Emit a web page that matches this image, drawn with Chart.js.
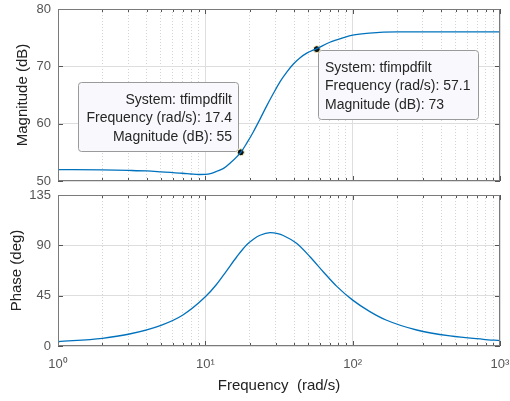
<!DOCTYPE html>
<html>
<head>
<meta charset="utf-8">
<script src="https://cdn.jsdelivr.net/npm/chart.js@4.4.1/dist/chart.umd.min.js"></script>
<style>
  body { margin: 0; background: #fff; }
  #wrap { position: relative; width: 510px; height: 401px; }
  #magBox { position: absolute; left: 0; top: 0; width: 510px; height: 190px; }
  #phaseBox { position: absolute; left: 0; top: 190px; width: 510px; height: 211px; }
</style>
</head>
<body>
<div id="wrap">
  <div id="magBox"><canvas id="magChart" width="510" height="190"></canvas></div>
  <div id="phaseBox"><canvas id="phaseChart" width="510" height="211"></canvas></div>
</div>
<script>
// Bode plot data

// magnitude curve
const freqMag = [1, 2, 3, 4, 5, 7, 8, 9, 10, 11, 12, 13.3, 14.7, 17.4, 19.1, 21.2, 23.5, 26.1, 29, 32.1, 35.7, 39.6, 44, 48.8, 57.1, 70, 86.5, 100, 130, 200, 500, 1000];
const magDb   = [52, 51.95, 51.85, 51.75, 51.6, 51.35, 51.22, 51.13, 51.15, 51.35, 51.7, 52.2, 53.1, 55, 56.6, 58.6, 60.8, 63.1, 65.3, 67.3, 69.0, 70.4, 71.5, 72.3, 73.1, 74.2, 75.0, 75.45, 75.8, 76, 76, 76];

// phase curve
const freqPhase = [1, 2, 3, 5, 7, 10, 11.9, 13.9, 16.4, 19.1, 21.2, 23.5, 27.5, 31, 33.8, 41.6, 51.3, 63.1, 77.7, 100, 130, 170, 272, 458, 771, 1000];
const phaseDeg  = [3.8, 6.9, 10.5, 18.5, 27.5, 44, 55, 67, 80, 90.5, 95.5, 99, 101.3, 100.5, 98.8, 91.8, 79.8, 66.4, 53.5, 41, 31, 23, 14.3, 9, 6, 4.8];

// data tips on the magnitude plot
const tipFreq = [17.4, 57.1];
const tipMag  = [55, 73];
const tipSystem = 'tfimpdfilt';

// axis ticks
const freqDecades = [1, 10, 100, 1000];
const freqDecadeLabels = ['10\u2070', '10\u00B9', '10\u00B2', '10\u00B3'];
const magTicks = [50, 60, 70, 80];
const phaseTicks = [0, 45, 90, 135];

const FONT = "'Liberation Sans', Arial, Helvetica, sans-serif";
Chart.defaults.font.family = FONT;
Chart.defaults.animation = false;

const lineBlue = '#0072BD';
const gridCol = '#dedede';
const boxCol = '#7a7a7a';

// all ticks 1..9 for each decade (minor grid)
function logTicks() {
    const t = [];
    for (let d = 0; d < freqDecades.length - 1; d++) {
        for (let k = 1; k < 10; k++) t.push({ value: k * freqDecades[d] });
    }
    t.push({ value: freqDecades[freqDecades.length - 1] });
    return t;
}
function isDecade(v) {
    return freqDecades.indexOf(v) >= 0;
}

function xAxis(showLabels) {
    return {
        type: 'logarithmic',
        min: 1,
        max: 1000,
        afterBuildTicks: (s) => { s.ticks = logTicks(); },
        afterFit: (s) => {
            s.height = showLabels ? 55 : 0;
            s.paddingLeft = 0; s.paddingRight = 0;
        },
        grid: {
            drawTicks: false,
            color: (c) => (c.tick && isDecade(c.tick.value)) ? gridCol : '#d4d4d4',
            lineWidth: 1
        },
        border: {
            display: false,
            dash: (c) => (c.tick && !isDecade(c.tick.value)) ? [1, 2] : []
        },
        ticks: {
            display: showLabels,
            autoSkip: false,
            maxRotation: 0,
            padding: 11,
            color: '#555',
            font: { size: 13 },
            callback: (v) => {
                const i = freqDecades.indexOf(v);
                return i >= 0 ? freqDecadeLabels[i] : '';
            }
        },
        title: {
            display: showLabels,
            text: 'Frequency  (rad/s)',
            color: '#222',
            font: { size: 15 },
            padding: { top: 0, bottom: 6 }
        }
    };
}

function yAxis(min, max, ticks, label, titlePad) {
    return {
        min: min,
        max: max,
        afterBuildTicks: (s) => { s.ticks = ticks.map(v => ({ value: v })); },
        afterFit: (s) => {
            s.width = 58;
            s.paddingTop = 0; s.paddingBottom = 0;
        },
        grid: { drawTicks: false, color: gridCol },
        border: { display: false },
        ticks: { padding: 7, color: '#555', font: { size: 13 } },
        title: {
            display: true,
            text: label,
            color: '#222',
            font: { size: 15 },
            padding: { top: titlePad, bottom: 0 }
        }
    };
}

// frame around the plot area + small inward tick marks, like MATLAB axes
const framePlugin = {
    id: 'frame',
    afterDraw(chart) {
        const ctx = chart.ctx;
        const a = chart.chartArea;
        const xs = chart.scales.x, ys = chart.scales.y;
        ctx.save();
        ctx.strokeStyle = '#555';
        ctx.lineWidth = 1;
        ctx.beginPath();
        xs.ticks.forEach(t => {
            const px = Math.round(xs.getPixelForValue(t.value)) + 0.5;
            const len = isDecade(t.value) ? 5 : 3;
            ctx.moveTo(px, a.top); ctx.lineTo(px, a.top + len);
            ctx.moveTo(px, a.bottom); ctx.lineTo(px, a.bottom - len);
        });
        ys.ticks.forEach(t => {
            const py = Math.round(ys.getPixelForValue(t.value)) + 0.5;
            ctx.moveTo(a.left, py); ctx.lineTo(a.left + 5, py);
            ctx.moveTo(a.right, py); ctx.lineTo(a.right - 5, py);
        });
        ctx.stroke();
        ctx.strokeStyle = boxCol;
        ctx.strokeRect(Math.round(a.left) + 0.5, Math.round(a.top) + 0.5,
                       Math.round(a.right - a.left) - 1, Math.round(a.bottom - a.top) - 1);
        ctx.restore();
    }
};

// data tip boxes, placed next to their point
const tipPlugin = {
    id: 'tips',
    beforeDatasetsDraw(chart) {
        const ctx = chart.ctx;
        const xs = chart.scales.x, ys = chart.scales.y;
        ctx.save();
        ctx.font = '14px ' + FONT;
        for (let i = 0; i < tipFreq.length; i++) {
            const lines = [
                'System: ' + tipSystem,
                'Frequency (rad/s): ' + tipFreq[i],
                'Magnitude (dB): ' + tipMag[i]
            ];
            const tw = Math.max(...lines.map(l => ctx.measureText(l).width));
            const w = Math.round(tw + 14), h = 69;
            const px = xs.getPixelForValue(tipFreq[i]);
            const py = ys.getPixelForValue(tipMag[i]);
            let bx, by;
            if (i === 0) { bx = Math.round(px - 3 - w); by = Math.round(py - 1 - h); }
            else { bx = Math.round(px + 1.5); by = Math.round(py + 1); }
            ctx.beginPath();
            ctx.roundRect(bx + 0.5, by + 0.5, w, h, 3);
            ctx.fillStyle = '#f8f8fd';
            ctx.fill();
            ctx.strokeStyle = '#9a9a9a';
            ctx.lineWidth = 1;
            ctx.stroke();
            ctx.fillStyle = '#262626';
            ctx.textBaseline = 'alphabetic';
            lines.forEach((l, j) => {
                const ty = by + 22 + j * 18.3;
                if (i === 0) { ctx.textAlign = 'right'; ctx.fillText(l, bx + w - 6, ty); }
                else { ctx.textAlign = 'left'; ctx.fillText(l, bx + 7, ty); }
            });
        }
        ctx.restore();
    }
};

function curve(xs, ys) {
    return xs.map((f, i) => ({ x: f, y: ys[i] }));
}

const magChart = new Chart(document.getElementById('magChart'), {
    type: 'line',
    data: {
        datasets: [
            {
                data: curve(freqMag, magDb),
                borderColor: lineBlue,
                borderWidth: 1.3,
                pointRadius: 0,
                cubicInterpolationMode: 'monotone',
                fill: false
            },
            {
                data: curve(tipFreq, tipMag),
                showLine: false,
                pointRadius: 3.5,
                pointBackgroundColor: '#111',
                pointBorderColor: '#fff8c8',
                pointBorderWidth: 1
            }
        ]
    },
    options: {
        responsive: false,
        layout: { padding: { top: 9, right: 10, bottom: 9, left: 0 } },
        plugins: { legend: { display: false }, tooltip: { enabled: false } },
        scales: {
            x: xAxis(false),
            y: yAxis(50, 80, magTicks, 'Magnitude (dB)', 14)
        }
    },
    plugins: [tipPlugin, framePlugin]
});

const phaseChart = new Chart(document.getElementById('phaseChart'), {
    type: 'line',
    data: {
        datasets: [
            {
                data: curve(freqPhase, phaseDeg),
                borderColor: lineBlue,
                borderWidth: 1.3,
                pointRadius: 0,
                cubicInterpolationMode: 'monotone',
                fill: false
            }
        ]
    },
    options: {
        responsive: false,
        layout: { padding: { top: 5, right: 10, bottom: 0, left: 0 } },
        plugins: { legend: { display: false }, tooltip: { enabled: false } },
        scales: {
            x: xAxis(true),
            y: yAxis(0, 135, phaseTicks, 'Phase (deg)', 8)
        }
    },
    plugins: [framePlugin]
});
</script>
</body>
</html>
